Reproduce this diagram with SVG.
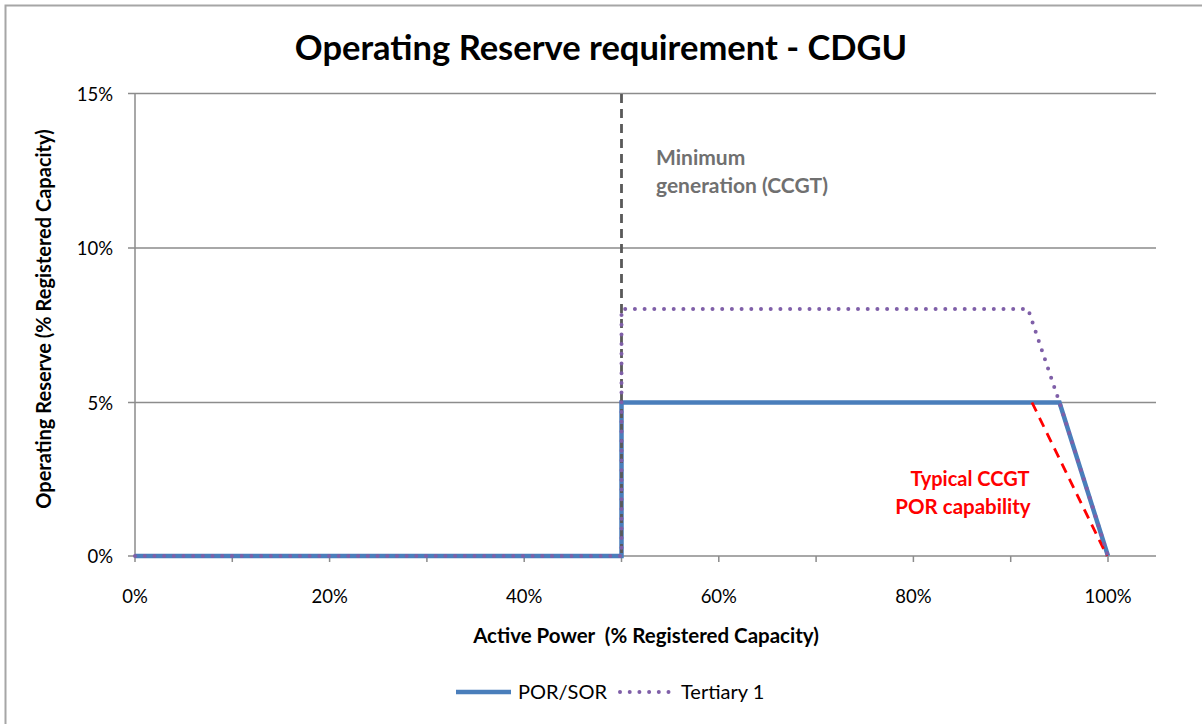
<svg xmlns="http://www.w3.org/2000/svg" width="1202" height="724" viewBox="0 0 1202 724">
<style>
text{font-family:Lato,"Open Sans","Liberation Sans",sans-serif;fill:#000}
.tick{font-size:18.5px}
.leg{font-size:20px}
.grid{stroke:#8c8c8c;stroke-width:1.3;fill:none}
.axis{stroke:#8c8c8c;stroke-width:1.5;fill:none}
.b{font-weight:bold}
</style>
<rect x="0" y="0" width="1202" height="724" fill="#fff"/>
<rect x="5.5" y="5.5" width="1210" height="730" fill="none" stroke="#a6a6a6" stroke-width="2"/>
<g id="title"><text x="601" y="60" text-anchor="middle" class="b" font-size="34.5">Operating Reserve requirement - CDGU</text></g>
<g id="grid">
<path class="grid" d="M128 93.5H1156M128 248H1156M128 402.5H1156"/>
<path class="axis" d="M135 93.5V556M128 556H1156"/>
<path class="axis" d="M135 556v6M232.3 556v6M329.6 556v6M426.9 556v6M524.2 556v6M621.5 556v6M718.8 556v6M816.1 556v6M913.4 556v6M1010.7 556v6M1108 556v6"/>
</g>
<g id="ylabels" class="tick" text-anchor="end">
<text x="113" y="101">15%</text>
<text x="113" y="255">10%</text>
<text x="113" y="410">5%</text>
<text x="113" y="563">0%</text>
</g>
<g id="xlabels" class="tick" text-anchor="middle">
<text x="135" y="603">0%</text>
<text x="329.6" y="603">20%</text>
<text x="524.2" y="603">40%</text>
<text x="718.8" y="603">60%</text>
<text x="913.4" y="603">80%</text>
<text x="1108" y="603">100%</text>
</g>
<g id="axis-titles">
<text x="646" y="643" text-anchor="middle" class="b" font-size="20.5" xml:space="preserve">Active Power  (% Registered Capacity)</text>
<text transform="translate(51 319) rotate(-90)" text-anchor="middle" class="b" font-size="20">Operating Reserve (% Registered Capacity)</text>
</g>
<g id="connectors">
<path d="M135 556H621.5V402.5H1059.5L1108 556" fill="none" stroke="#4a7ebb" stroke-width="4.5" stroke-linejoin="miter"/>
<path d="M621.5 94V556" fill="none" stroke="#595959" stroke-width="2.8" stroke-dasharray="9 6"/>
<path d="M1032 402.5L1107 556" fill="none" stroke="#ff0000" stroke-width="2.8" stroke-dasharray="10 7"/>
<path d="M135 556H621.5V309H1028L1059.5 402.5L1108 556" fill="none" stroke="#7f5fa8" stroke-width="4" stroke-linecap="round" stroke-dasharray="0 9.7"/>
</g>
<g id="annotations" class="b" font-size="21">
<text x="656" y="165" style="fill:#707070">Minimum</text>
<text x="656" y="193" style="fill:#707070">generation (CCGT)</text>
<text x="970" y="486" text-anchor="middle" font-size="20" style="fill:#ff0000">Typical CCGT</text>
<text x="963" y="514" text-anchor="middle" font-size="20.5" style="fill:#ff0000">POR capability</text>
</g>
<g id="legend">
<path d="M456 692H511" stroke="#4a7ebb" stroke-width="4.5"/>
<text x="518" y="699" class="leg">POR/SOR</text>
<path d="M620 692H672" stroke="#7f5fa8" stroke-width="4" stroke-linecap="round" stroke-dasharray="0 9.7"/>
<text x="681" y="699" class="leg">Tertiary 1</text>
</g>
</svg>
